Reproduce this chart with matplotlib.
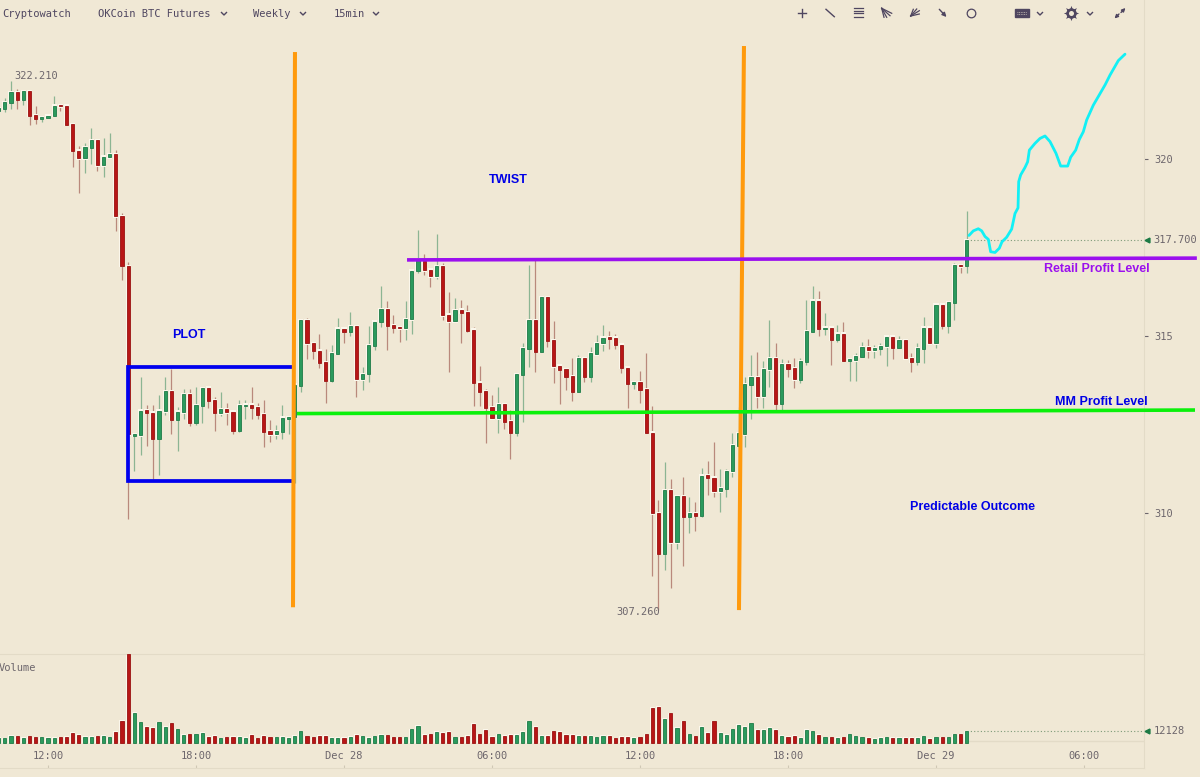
import matplotlib
matplotlib.use('Agg')
import matplotlib.pyplot as plt
import numpy as np

# 15 min candles
opens = [321.36,321.41,321.59,321.89,321.67,321.92,321.23,321.14,321.17,321.22,
         321.52,321.50,320.98,320.23,320.02,320.32,320.53,319.82,320.05,320.13,
         318.39,316.98,312.19,312.20,312.90,312.84,312.10,312.88,313.44,312.63,
         312.85,313.36,312.55,313.03,313.54,313.18,312.82,312.94,312.86,312.32,
         313.03,313.06,312.99,312.79,312.32,312.23,312.30,312.67,312.72,313.60,
         315.45,314.80,314.58,314.26,313.73,314.50,315.21,315.12,315.27,313.78,
         313.93,314.73,315.40,315.75,315.30,315.25,315.22,315.47,316.84,317.13,
         316.87,316.69,316.97,315.60,315.42,315.74,315.67,315.18,313.68,313.44,
         312.99,312.68,313.07,312.59,312.26,313.90,314.64,315.45,314.55,316.09,
         314.88,314.16,314.06,313.86,313.43,314.38,313.85,314.49,314.79,314.97,
         314.95,314.76,314.10,313.65,313.69,313.49,312.27,310.00,308.85,310.65,
         309.17,310.48,309.90,310.00,309.92,311.07,311.00,310.61,310.69,311.18,
         311.90,312.23,313.62,313.83,313.30,314.06,314.38,313.08,314.21,314.09,
         313.77,314.27,315.12,316.00,315.20,315.23,314.90,315.06,314.30,314.32,
         314.42,314.69,314.60,314.64,314.71,314.98,314.67,314.88,314.38,314.27,
         314.64,315.23,314.79,315.88,315.29,315.94,317.00,316.99]
closes = [321.43,321.60,321.89,321.67,321.92,321.22,321.14,321.18,321.22,321.50,
          321.49,320.97,320.23,320.02,320.33,320.53,319.82,320.06,320.13,318.38,
          316.98,312.23,312.22,312.89,312.83,312.10,312.89,313.44,312.63,312.86,
          313.36,312.55,313.04,313.53,313.17,312.83,312.94,312.85,312.32,313.04,
          313.06,312.97,312.78,312.30,312.23,312.31,312.69,312.70,313.62,315.45,
          314.79,314.58,314.25,313.73,314.51,315.21,315.12,315.27,313.78,313.93,
          314.74,315.40,315.75,315.29,315.23,315.22,315.48,316.84,317.15,316.86,
          316.69,316.97,315.59,315.42,315.73,315.66,315.15,313.68,313.43,312.97,
          312.68,313.07,312.58,312.26,313.92,314.65,315.45,314.55,316.09,314.87,
          314.15,314.05,313.85,313.43,314.38,313.85,314.52,314.80,314.95,314.93,
          314.75,314.10,313.65,313.69,313.48,312.26,309.99,308.85,310.65,309.17,
          310.48,309.90,310.00,309.92,311.06,310.99,310.61,310.70,311.19,311.91,
          312.25,313.64,313.83,313.30,314.06,314.38,313.09,314.21,314.08,313.78,
          314.29,315.13,316.00,315.20,315.23,314.90,315.06,314.30,314.34,314.43,
          314.69,314.60,314.65,314.72,314.98,314.67,314.88,314.37,314.27,314.65,
          315.23,314.79,315.88,315.29,315.95,317.00,316.97,317.70]
highs = [321.43,321.73,322.21,321.98,321.95,321.95,321.51,321.18,321.22,321.78,
         321.52,321.53,321.01,320.37,320.46,320.88,320.53,320.58,320.73,320.25,
         318.48,317.09,312.22,313.84,313.05,313.05,313.34,313.84,314.07,312.99,
         313.49,313.49,313.55,313.55,313.57,313.27,313.42,313.10,312.89,313.18,
         313.18,313.55,313.10,313.18,312.63,312.49,313.04,312.70,313.62,315.48,
         315.50,314.84,315.06,314.62,314.74,315.50,315.21,315.68,315.27,314.12,
         315.28,315.40,316.41,315.98,315.58,315.25,315.98,316.88,317.99,317.31,
         316.91,317.87,317.05,316.23,316.07,316.01,315.88,315.26,314.15,313.49,
         313.33,313.56,313.07,312.91,313.92,314.79,317.01,317.15,316.09,316.09,
         315.43,314.18,314.06,314.37,314.46,314.38,314.70,315.03,315.31,315.14,
         315.06,314.77,314.12,313.69,314.02,314.51,313.02,310.36,311.45,310.96,
         310.48,311.01,310.45,310.31,311.26,311.46,312.01,311.25,311.24,312.25,
         312.99,313.85,314.46,314.56,314.30,315.45,314.81,314.34,314.32,314.38,
         314.38,316.02,316.41,316.26,315.64,315.23,315.30,315.40,314.34,314.53,
         314.84,314.93,314.75,314.81,315.01,315.01,315.00,314.88,314.51,314.79,
         315.54,315.23,315.88,315.88,315.95,317.07,317.00,318.52]
lows = [321.36,321.34,321.41,321.41,321.53,320.96,320.99,321.04,321.17,321.22,
        321.36,320.97,319.77,319.03,319.60,319.86,319.67,319.48,320.05,317.97,
        316.58,309.83,311.19,311.65,311.90,310.95,311.07,312.78,312.23,311.76,
        312.65,312.46,312.48,312.55,312.97,312.32,312.74,312.48,312.22,312.28,
        312.65,312.67,312.67,311.87,312.01,312.08,312.08,312.22,310.85,313.43,
        314.35,314.35,314.10,313.12,313.71,314.50,314.79,314.99,313.27,313.47,
        313.70,314.60,315.26,314.60,315.09,314.84,314.89,315.06,316.79,316.73,
        316.38,316.61,315.45,313.99,315.42,314.79,315.11,313.02,313.02,311.99,
        312.66,312.25,312.37,311.52,312.18,312.58,314.12,313.99,314.55,314.70,
        313.66,313.08,313.47,313.16,313.43,313.71,313.71,314.49,314.58,314.64,
        314.64,313.96,312.97,313.49,313.12,312.26,308.22,307.26,308.39,307.87,
        308.99,308.50,309.43,309.49,309.90,310.51,310.46,310.04,310.46,311.03,
        311.59,311.87,312.65,312.97,312.97,313.57,312.91,312.91,313.85,313.52,
        313.68,314.17,315.12,315.01,315.04,314.19,314.84,314.30,313.72,313.74,
        314.40,314.39,314.39,314.46,314.16,314.34,314.67,314.34,313.99,314.19,
        314.25,314.77,314.67,315.21,315.09,315.44,316.78,316.78]
# volume, in thousands
volumes = [5.0,4.6,7.5,6.7,5.0,6.7,5.7,5.7,5.0,5.0,
           5.7,6.4,10.3,8.5,6.4,6.4,6.7,7.5,5.7,11.4,
           23.4,94.4,32.0,21.7,16.7,16.0,21.7,16.7,20.6,14.2,
           8.2,9.2,9.2,10.3,6.4,7.5,4.6,5.7,6.4,6.4,
           5.0,8.2,4.6,7.5,5.7,5.7,6.4,5.0,7.5,12.4,
           6.7,5.7,7.5,7.5,5.0,5.0,5.0,6.4,8.2,6.7,
           5.0,6.7,8.2,7.8,5.7,5.7,5.7,14.2,17.8,8.5,
           9.2,11.4,10.3,11.4,5.7,5.7,7.5,19.9,9.2,13.5,
           6.4,9.2,7.5,8.2,8.5,11.4,22.7,17.0,7.5,7.5,
           12.4,11.4,8.2,8.5,7.5,6.7,7.5,5.7,7.5,7.5,
           4.6,6.4,6.4,5.0,5.7,9.2,36.9,38.3,25.2,31.2,
           16.0,22.7,9.2,6.7,17.0,10.3,22.7,10.3,8.5,14.2,
           18.8,16.7,20.9,13.5,13.5,16.0,13.5,7.5,6.4,7.5,
           5.0,13.5,12.4,8.5,5.7,5.7,5.0,5.7,9.2,6.7,
           5.7,5.0,3.9,5.0,5.7,5.0,5.0,5.0,5.0,5.0,
           6.7,3.9,5.7,5.7,5.7,9.2,9.2,12.128]

time_ticks = [8, 32, 56, 80, 104, 128, 152, 176]
time_labels = ['12:00', '18:00', 'Dec 28', '06:00', '12:00', '18:00', 'Dec 29', '06:00']
price_ticks = [310, 315, 320]
high_label = '322.210'
low_label = '307.260'
last_label = '317.700'
volume_label = '12128'

# hand drawn stuff on top of the chart, bar number / price
box_x = [47.73, 20.97, 20.97, 47.73]
box_y = [314.12, 314.12, 310.90, 310.90]
orange1_x = [48.05, 47.73]
orange1_y = [323.02, 307.34]
orange2_x = [120.86, 120.05]
orange2_y = [323.19, 307.26]
green_x = [48.38, 194.0]
green_y = [312.81, 312.91]
purple_x = [66.22, 194.3]
purple_y = [317.15, 317.20]
cyan_x = [157.35,158.05,158.86,159.41,159.95,160.49,160.86,161.57,162.27,162.70,
          163.46,164.27,164.81,165.30,165.41,165.73,166.43,166.86,167.14,168.05,
          168.86,169.68,170.49,171.46,172.22,173.35,173.84,174.65,175.24,175.89,
          176.43,177.51,179.41,180.22,181.57,182.65]
cyan_y = [317.84,317.97,318.03,317.97,317.81,317.73,317.38,317.36,317.48,317.66,
          317.79,318.02,318.46,318.62,319.36,319.55,319.76,319.92,320.25,320.44,
          320.58,320.65,320.49,320.16,319.80,319.80,320.05,320.25,320.55,320.77,
          321.10,321.52,322.09,322.37,322.78,322.96]

bg = '#f0e8d5'
line_c = '#e3dbc7'
text_c = '#6d666c'
tool_c = '#4f4660'
red = '#b81616'
red_e = '#99100f'
green = '#2b9a5d'
green_e = '#1c7a45'
red_w = '#b9897c'
green_w = '#8cb593'
mono = 'DejaVu Sans Mono'
arial = 'Liberation Sans'

W, H = 1200, 777
fig = plt.figure(figsize=(W / 100, H / 100), dpi=100, facecolor=bg)
ax = fig.add_axes([0, (H - 654) / H, 1144 / W, 654 / H], facecolor=bg)
vax = fig.add_axes([0, (H - 768) / H, 1144 / W, 114 / H], facecolor='none')

x = np.arange(len(opens))
o = np.array(opens)
c = np.array(closes)
up = c >= o
body_c = np.where(up, green, red)
edge_c = np.where(up, green_e, red_e)
wick_c = np.where(up, green_w, red_w)
top = np.maximum(o, c)
bot = np.minimum(o, c)

# candles
ax.vlines(x, lows, highs, colors=wick_c, linewidth=0.9, zorder=2)
ax.bar(x, top - bot + 0.08, bottom=bot - 0.04, width=0.82, color='#fbf7ec', linewidth=0, zorder=3)
ax.bar(x, np.maximum(top - bot, 0.03), bottom=bot, width=0.5, color=body_c,
       edgecolor=edge_c, linewidth=0.6, zorder=4)
ax.hlines(closes[-1], x[-1], 185.73, colors='#7d9a78', linewidth=0.8, linestyles=(0, (1, 2)), zorder=1)

ax.set_xlim(0.216, 185.73)
ax.set_ylim(306.02, 324.49)
ax.set_xticks([])
ax.set_yticks(price_ticks)
ax.yaxis.tick_right()
ax.tick_params(axis='y', length=3, width=0.8, color=text_c, labelcolor=text_c, pad=4.5)
for lab in ax.get_yticklabels():
    lab.set_fontfamily(mono)
    lab.set_fontsize(7.5)
for s in ['top', 'left', 'bottom']:
    ax.spines[s].set_visible(False)
ax.spines['right'].set_color(line_c)

# hi, low and last price labels
ax.text(2.5, highs[2] - 0.02, high_label, family=mono, fontsize=7.5, color=text_c, ha='left', va='bottom', zorder=5)
ax.text(107.2, lows[107] - 0.06, low_label, family=mono, fontsize=7.5, color=text_c, ha='right', va='center', zorder=5)
ytrans = ax.get_yaxis_transform()
ax.plot([1.0028], [closes[-1]], marker='<', ms=3.5, color=green_e, transform=ytrans, clip_on=False, zorder=5)
ax.text(1.0085, closes[-1], last_label, family=mono, fontsize=7.5, color=text_c, va='center', transform=ytrans, clip_on=False)

# drawn annotations
ax.plot(box_x, box_y, color='#0000ee', linewidth=2.7, solid_joinstyle='miter', solid_capstyle='butt', zorder=6)
ax.plot(orange1_x, orange1_y, color='#ff9a0d', linewidth=2.9, solid_capstyle='butt', zorder=7)
ax.plot(orange2_x, orange2_y, color='#ff9a0d', linewidth=2.9, solid_capstyle='butt', zorder=7)
ax.plot(green_x, green_y, color='#0bf00b', linewidth=2.6, solid_capstyle='butt', clip_on=False, zorder=8)
ax.plot(purple_x, purple_y, color='#9b10ee', linewidth=2.6, solid_capstyle='butt', clip_on=False, zorder=8)
ax.plot(cyan_x, cyan_y, color='#12f0f5', linewidth=2.0, solid_capstyle='round', zorder=9)

# volume
vax.bar(x, np.array(volumes) + 0.6, width=0.82, color='#fbf7ec', linewidth=0, zorder=2)
vax.bar(x, volumes, width=0.5, color=body_c, edgecolor=edge_c, linewidth=0.6, zorder=3)
vax.hlines(1.7, x[-1], 185.73, colors=line_c, linewidth=1, zorder=1)
vax.hlines(volumes[-1], x[-1], 185.73, colors='#7d9a78', linewidth=0.8, linestyles=(0, (1, 2)), zorder=1)
vax.set_xlim(0.216, 185.73)
vax.set_ylim(-26.9, 94.4)
vax.set_yticks([])
vax.set_xticks(time_ticks)
vax.set_xticklabels(time_labels, family=mono, fontsize=7.5, color=text_c)
vax.tick_params(axis='x', direction='in', length=2, width=0.8, color='#cfc7b4', pad=-12.5)
vax.spines['left'].set_visible(False)
for s in ['top', 'bottom', 'right']:
    vax.spines[s].set_color(line_c)
vtrans = vax.get_yaxis_transform()
vax.plot([1.0028], [volumes[-1]], marker='<', ms=3.5, color=green_e, transform=vtrans, clip_on=False, zorder=5)
vax.text(1.0085, volumes[-1], volume_label, family=mono, fontsize=7.5, color=text_c, va='center', transform=vtrans, clip_on=False)

# overlay for header and the typed notes
top_ax = fig.add_axes([0, 0, 1, 1], facecolor='none')
top_ax.set_xlim(0, W)
top_ax.set_ylim(H, 0)
top_ax.axis('off')

for tx, s in [(2, 'Cryptowatch'), (98, 'OKCoin BTC Futures'), (253, 'Weekly'), (334, '15min')]:
    top_ax.text(tx, 14, s, family=mono, fontsize=7.5, color=tool_c, va='center')
top_ax.text(-1, 668, 'Volume', family=mono, fontsize=7.5, color=text_c, va='center')

for cx in [224, 303, 376, 1040, 1090]:
    top_ax.plot([cx - 2.5, cx, cx + 2.5], [12.5, 15, 12.5], color=tool_c, lw=1)

top_ax.plot([798, 806], [12.7, 12.7], color=tool_c, lw=1)
top_ax.plot([802, 802], [8.7, 16.7], color=tool_c, lw=1)
top_ax.plot([826, 834.3], [9.3, 16.7], color=tool_c, lw=1)
for hy in [8, 10.7, 13.3, 16.7]:
    top_ax.plot([854, 863.3], [hy, hy], color=tool_c, lw=0.9)
for ex, ey in [(891.7, 13.3), (890, 15.7), (886.7, 17.3), (884, 17.3)]:
    top_ax.plot([881.7, ex], [8.3, ey], color=tool_c, lw=0.9)
for ex, ey in [(919.3, 10.7), (916.7, 9), (913.3, 9.3), (919.3, 14)]:
    top_ax.plot([910.7, ex], [16, ey], color=tool_c, lw=0.9)
top_ax.annotate('', xy=(946.5, 17), xytext=(939.3, 9.3),
                arrowprops=dict(arrowstyle='-|>', color=tool_c, lw=1, mutation_scale=6, shrinkA=0, shrinkB=0))
top_ax.plot([971], [13.3], marker='o', ms=6.2, mfc='none', mec=tool_c, mew=0.9)
top_ax.fill([1015, 1028.5, 1028.5, 1015], [9.3, 9.3, 16.7, 16.7], color=tool_c)
for ky in [11.5, 14]:
    top_ax.plot([1016.5, 1027], [ky, ky], color='#c9c2b8', lw=0.6, ls=(0, (1, 1)))
top_ax.plot([1071], [12.7], marker=(8, 1, 0), ms=11, color=tool_c, mew=0)
top_ax.plot([1071], [12.7], marker='o', ms=7.5, color=tool_c, mew=0)
top_ax.plot([1071], [12.7], marker='o', ms=3.6, color=bg, mew=0)
top_ax.annotate('', xy=(1114.5, 18.5), xytext=(1119, 14),
                arrowprops=dict(arrowstyle='-|>', color=tool_c, lw=1, mutation_scale=5, shrinkA=0, shrinkB=0))
top_ax.annotate('', xy=(1125.5, 8), xytext=(1121, 12.5),
                arrowprops=dict(arrowstyle='-|>', color=tool_c, lw=1, mutation_scale=5, shrinkA=0, shrinkB=0))

top_ax.text(189, 335, 'PLOT', family=arial, weight='bold', fontsize=9, color='#0000e6', ha='center', va='center')
top_ax.text(508, 180, 'TWIST', family=arial, weight='bold', fontsize=9, color='#0000e6', ha='center', va='center')
top_ax.text(973, 507, 'Predictable Outcome', family=arial, weight='bold', fontsize=9, color='#0000e6', ha='center', va='center')
top_ax.text(1097, 269, 'Retail Profit Level', family=arial, weight='bold', fontsize=9, color='#9b10ee', ha='center', va='center')
top_ax.text(1101, 402, 'MM Profit Level', family=arial, weight='bold', fontsize=9, color='#0000e6', ha='center', va='center')

fig.savefig('out.png', dpi=100, facecolor=bg)
